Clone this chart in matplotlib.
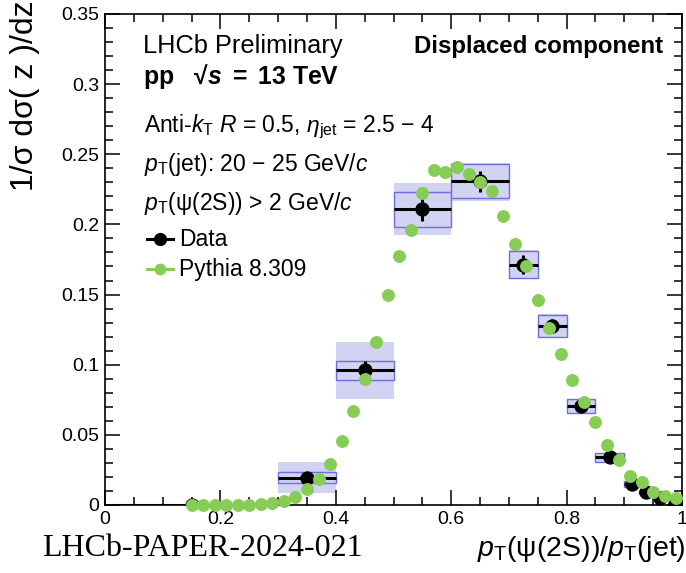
import numpy as np
import matplotlib
matplotlib.use('Agg')
import matplotlib.pyplot as plt
from matplotlib.patches import Rectangle
from matplotlib.ticker import MultipleLocator, FuncFormatter

# data bins: edges, value, stat error
bin_lo = [0.0, 0.3, 0.4, 0.5, 0.6, 0.7, 0.75, 0.8, 0.85, 0.9, 0.925, 0.95, 0.975]
bin_hi = [0.3, 0.4, 0.5, 0.6, 0.7, 0.75, 0.8, 0.85, 0.9, 0.925, 0.95, 0.975, 1.0]
data_y = [0.0, 0.0195, 0.0959, 0.2107, 0.2307, 0.1714, 0.1279, 0.0709, 0.0341, 0.0148, 0.0091, 0.0052, 0.0005]
data_stat = [0.0, 0.003, 0.0065, 0.008, 0.0077, 0.007, 0.005, 0.003, 0.002, 0.0015, 0.0012, 0.001, 0.0008]
# inner (outlined) and outer (shaded) systematic boxes
syst_in_lo = [0.0, 0.0157, 0.0891, 0.1984, 0.2185, 0.1619, 0.1198, 0.0659, 0.0309, 0.0128, 0.0075, 0.0040, 0.0]
syst_in_hi = [0.0, 0.0236, 0.1024, 0.2234, 0.2432, 0.1809, 0.1355, 0.0755, 0.0369, 0.0168, 0.0107, 0.0064, 0.0010]
syst_out_lo = [0.0, 0.0086, 0.0755, 0.1924, 0.2165, 0.1612, 0.1190, 0.0655, 0.0305, 0.0125, 0.0072, 0.0038, 0.0]
syst_out_hi = [0.0, 0.0307, 0.1159, 0.2293, 0.2440, 0.1815, 0.1362, 0.0759, 0.0373, 0.0171, 0.0110, 0.0066, 0.0012]

# Pythia 8.309
pythia_x = [0.15, 0.17, 0.19, 0.21, 0.23, 0.25, 0.27, 0.29, 0.31, 0.33, 0.35, 0.37, 0.39, 0.41,
            0.43, 0.45, 0.47, 0.49, 0.51, 0.53, 0.55, 0.57, 0.59, 0.61, 0.63, 0.65, 0.67, 0.69,
            0.71, 0.73, 0.75, 0.77, 0.79, 0.81, 0.83, 0.85, 0.87, 0.89, 0.91, 0.93, 0.95, 0.97, 0.99]
pythia_y = [0.0, 0.0, 0.0, 0.0, 0.0, 0.0003, 0.0005, 0.0016, 0.0029, 0.0059, 0.0114, 0.0186, 0.0293, 0.0455,
            0.0667, 0.090, 0.116, 0.1495, 0.1774, 0.196, 0.2226, 0.2386, 0.2376, 0.241, 0.2357, 0.2305, 0.2238, 0.206,
            0.1857, 0.170, 0.1464, 0.1262, 0.1079, 0.0893, 0.0734, 0.0591, 0.0429, 0.0321, 0.0207, 0.0166, 0.0095, 0.0064, 0.0048]

plt.rcParams['font.family'] = ['Liberation Sans', 'DejaVu Sans']
plt.rcParams['mathtext.fontset'] = 'custom'
plt.rcParams['mathtext.rm'] = 'Liberation Sans'
plt.rcParams['mathtext.it'] = 'Liberation Sans:italic'
plt.rcParams['mathtext.bf'] = 'Liberation Sans:bold'
plt.rcParams['mathtext.bfit'] = 'Liberation Sans:bold:italic'

GREEN = '#87cc55'
FILL = '#d2d2f2'
EDGE = '#6e6ee0'

fig = plt.figure(figsize=(6.86, 5.73), dpi=100)
ax = fig.add_axes([0.1531, 0.1187, 0.8411, 0.8569])

# systematic boxes
for i in range(len(bin_lo)):
    w = bin_hi[i] - bin_lo[i]
    if syst_out_hi[i] > syst_out_lo[i]:
        ax.add_patch(Rectangle((bin_lo[i], syst_out_lo[i]), w, syst_out_hi[i] - syst_out_lo[i],
                               facecolor=FILL, edgecolor='none', zorder=1))
        ax.add_patch(Rectangle((bin_lo[i], syst_in_lo[i]), w, syst_in_hi[i] - syst_in_lo[i],
                               facecolor=FILL, edgecolor=EDGE, lw=1.0, zorder=2))

# data points
xc = [(a + b) / 2 for a, b in zip(bin_lo, bin_hi)]
xerr = [(b - a) / 2 for a, b in zip(bin_lo, bin_hi)]
ax.errorbar(xc, data_y, xerr=xerr, yerr=data_stat, fmt='o', color='black', ms=9.3,
            elinewidth=2.2, capsize=0, zorder=3)

# pythia
ax.plot(pythia_x, pythia_y, 'o', color=GREEN, ms=9.3, mec='none', zorder=4, clip_on=False)

ax.set_xlim(0, 1)
ax.set_ylim(0, 0.35)
ax.xaxis.set_major_locator(MultipleLocator(0.2))
ax.xaxis.set_minor_locator(MultipleLocator(0.05))
ax.yaxis.set_major_locator(MultipleLocator(0.05))
ax.yaxis.set_minor_locator(MultipleLocator(0.01))
ax.xaxis.set_major_formatter(FuncFormatter(lambda v, p: '%g' % round(v, 3)))
ax.yaxis.set_major_formatter(FuncFormatter(lambda v, p: '%g' % round(v, 3)))
ax.tick_params(which='both', direction='in', top=True, right=True, width=1.1, labelsize=14)
ax.tick_params(which='major', length=11)
ax.tick_params(which='minor', length=5.5)
ax.tick_params(axis='y', pad=4)
ax.tick_params(axis='x', pad=4)
for s in ax.spines.values():
    s.set_linewidth(1.2)

# labels
fig.text(25 / 686, 1.0, '1/σ dσ( z )/dz', rotation=90, ha='center', va='top', fontsize=23)
fig.text(0.999, 0.03, r'$p_{\mathrm{T}}$(ψ(2S))/$p_{\mathrm{T}}$(jet)', ha='right', va='baseline', fontsize=20.5)
fig.text(42 / 686, 0.03, 'LHCb-PAPER-2024-021', ha='left', va='baseline', fontsize=23,
         family=['Liberation Serif', 'DejaVu Serif'])

# annotations
ax.text(0.065, 0.9345, 'LHCb Preliminary', transform=ax.transAxes, fontsize=18.3, va='center')
ax.text(0.065, 0.873, r'$\mathbf{pp\ \ \ √}\mathbfit{s}\mathbf{\ =\ 13\ TeV}$', transform=ax.transAxes,
        fontsize=17.8, va='center')
ax.text(0.968, 0.934, 'Displaced component', transform=ax.transAxes, fontsize=17.3,
        fontweight='bold', ha='right', va='center')
ax.text(0.068, 0.77, r'Anti-$k_{\mathrm{T}}$ $R$ = 0.5, $\eta_{\mathrm{jet}}$ = 2.5 − 4', transform=ax.transAxes,
        fontsize=16.5, va='center')
ax.text(0.068, 0.693, r'$p_{\mathrm{T}}$(jet): 20 − 25 GeV/$c$', transform=ax.transAxes,
        fontsize=16.5, va='center')
ax.text(0.068, 0.614, r'$p_{\mathrm{T}}$(ψ(2S)) > 2 GeV/$c$', transform=ax.transAxes,
        fontsize=16.5, va='center')

# legend by hand
ax.plot([0.073, 0.118], [0.1893, 0.1893], color='black', lw=2.2, clip_on=False)
ax.plot([0.0955], [0.1893], 'o', color='black', ms=8.5, clip_on=False)
ax.text(0.129, 0.1893, 'Data', fontsize=16.5, va='center')
ax.plot([0.073, 0.118], [0.1679, 0.1679], color=GREEN, lw=2.2, clip_on=False)
ax.plot([0.0955], [0.1679], 'o', color=GREEN, ms=8.5, mec='none', clip_on=False)
ax.text(0.129, 0.1679, 'Pythia 8.309', fontsize=16.5, va='center')

plt.savefig('out.png', dpi=100)
